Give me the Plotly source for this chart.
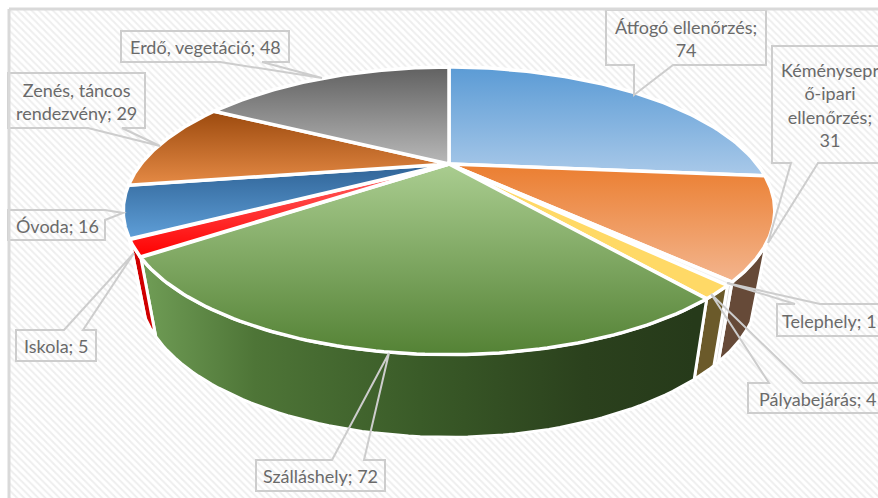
import numpy as np
import plotly.graph_objects as go

# ---- data ----
names = ["Átfogó ellenőrzés", "Kéményseprő-ipari ellenőrzés", "Telephely", "Pályabejárás",
         "Szálláshely", "Iskola", "Óvoda", "Zenés, táncos rendezvény", "Erdő, vegetáció"]
values = [74, 31, 1, 4, 72, 5, 16, 29, 48]
wrapped = ["Átfogó ellenőrzés;<br>{}", "Kéménysepr<br>ő-ipari<br>ellenőrzés;<br>{}", "Telephely; {}",
           "Pályabejárás; {}", "Szálláshely; {}", "Iskola; {}", "Óvoda; {}",
           "Zenés, táncos<br>rendezvény; {}", "Erdő, vegetáció; {}"]

# ---- styles (upper colour, lower colour) ----
top_colors = [("#5B9BD5", "#A9C9E9"), ("#EB7E30", "#F3B58E"), ("#F2F2F2", "#F2F2F2"), ("#FFD966", "#FFD966"),
              ("#AACD90", "#548235"), ("#FF6A6A", "#FF0000"), ("#2F6396", "#5F9FD8"),
              ("#9C4A0E", "#E58A45"), ("#616161", "#B8B8B8")]
side_colors = [None, ("#664A38", "#664A38"), ("#DCDCDC", "#DCDCDC"), ("#6B5A2A", "#6B5A2A"),
               None, ("#D00000", "#D00000"), None, None, None]
FRAME, TXT = "#D9D9D9", "#6A6A6A"
# projection of the tilted disc
CX, CY, A, B, K = 449, 164, 308, 128.5, 0.326
CX2, CY2, A2, B2 = 449, 240, 293, 133


def project(deg, cx, cy, a, b):
    t = np.radians(deg)
    X, Y = np.sin(t), np.cos(t)
    d = 1 + K * Y
    return cx + a * X / d, cy - b * Y / d


edges = np.concatenate([[0], np.cumsum(values)]) / sum(values) * 360
VIS_LO, VIS_HI = 121, 241

fig = go.Figure()

# striped chart area
fig.add_trace(go.Scatter(x=[10, 878, 878, 10, 10], y=[10, 10, 498, 498, 10], mode="lines", fill="toself",
                         line=dict(width=0), fillcolor="white", hoverinfo="skip", showlegend=False,
                         fillpattern=dict(shape="\\", size=5, solidity=0.4, fgcolor="#DEDEDE", bgcolor="white")))

# side walls
for i, c in enumerate(side_colors):
    lo, hi = max(edges[i], VIS_LO), min(edges[i + 1], VIS_HI)
    if hi <= lo:
        continue
    s = np.linspace(lo, hi, 60)
    xt, yt = project(s, CX, CY, A, B)
    xb, yb = project(s, CX2, CY2, A2, B2)
    xs = np.concatenate([xt, xb[::-1], xt[:1]])
    ys = np.concatenate([yt, yb[::-1], yt[:1]])
    if c is None:
        grad = dict(type="horizontal", start=145, stop=695,
                    colorscale=[[0, "#6F9C55"], [0.2, "#4E7537"], [0.5, "#3A5B28"], [0.8, "#2B411D"], [1, "#263A1A"]])
    else:
        grad = dict(type="horizontal", colorscale=[[0, c[0]], [1, c[1]]])
    fig.add_trace(go.Scatter(x=xs, y=ys, mode="lines", fill="toself", fillgradient=grad,
                             line=dict(color="white", width=3), hoverinfo="skip", showlegend=False))

# top faces
for i, c in enumerate(top_colors):
    s = np.linspace(edges[i], edges[i + 1], 90)
    xt, yt = project(s, CX, CY, A, B)
    xs = np.concatenate([[CX], xt, [CX]])
    ys = np.concatenate([[CY], yt, [CY]])
    grad = dict(type="vertical", colorscale=[[0, c[1]], [1, c[0]]])
    fig.add_trace(go.Scatter(x=xs, y=ys, mode="lines", fill="toself", fillgradient=grad,
                             line=dict(color="white", width=3.5), hoverinfo="skip", showlegend=False,
                             name=names[i]))

# callouts: box left, top, right, bottom, wedge base a, wedge base b, tip, text centre
callouts = [
    (606, 10, 766, 65, 634, 673, 634, 95, 686, 38),
    (772, 46, 900, 163, 791, 818, 768, 243, 830, 105),
    (777, 304, 900, 336, 795, 820, 727, 283, 829, 321),
    (748, 383, 900, 413, 769, 803, 711, 294, 818, 399),
    (256, 460, 385, 491, 332, 364, 389, 353, 320, 476),
    (16, 330, 96, 361, 64, 83, 134, 253, 56, 346),
    (8, 210, 105, 240, None, None, 123, 213, 57, 226),
    (8, 73, 145, 128, 88, 122, 160, 146, 76, 101),
    (121, 31, 289, 62, 220, 262, 322, 78, 205, 47),
]
shapes = []
for (l, t, r, b, wa, wb, tx, ty, _, _) in callouts:
    if wa is None:   # wedge leaves the right edge
        p = f"M{l},{t}L{r},{t}L{tx},{ty}L{r},220L{r},{b}L{l},{b}Z"
    elif ty > b:     # wedge below the box
        p = f"M{l},{t}L{r},{t}L{r},{b}L{wb},{b}L{tx},{ty}L{wa},{b}L{l},{b}Z"
    else:            # wedge above the box
        p = f"M{l},{t}L{wa},{t}L{tx},{ty}L{wb},{t}L{r},{t}L{r},{b}L{l},{b}Z"
    shapes.append(dict(type="path", path=p, xref="x", yref="y", line=dict(color="#CDCDCD", width=2), layer="above"))

# frame lines
shapes += [dict(type="line", xref="x", yref="y", x0=9, x1=9, y0=9, y1=498, line=dict(color=FRAME, width=3), layer="above"),
           dict(type="line", xref="x", yref="y", x0=9, x1=878, y0=9, y1=9, line=dict(color=FRAME, width=3), layer="above")]

annotations = []
for i, c in enumerate(callouts):
    annotations.append(dict(x=c[8], y=c[9], xref="x", yref="y", text=wrapped[i].format(values[i]), showarrow=False,
                            xanchor="center", yanchor="middle", align="center",
                            font=dict(family="Lato, Carlito, sans-serif", size=18, color=TXT)))

fig.update_layout(width=878, height=498, margin=dict(l=0, r=0, t=0, b=0), paper_bgcolor="white", plot_bgcolor="white",
                  xaxis=dict(range=[0, 878], visible=False, fixedrange=True),
                  yaxis=dict(range=[498, 0], visible=False, fixedrange=True),
                  shapes=shapes, annotations=annotations, showlegend=False)
fig.write_html("out.html", config={"displayModeBar": False}, include_plotlyjs=True,
               post_script="document.body.style.margin='0';document.documentElement.style.overflow='hidden';")
